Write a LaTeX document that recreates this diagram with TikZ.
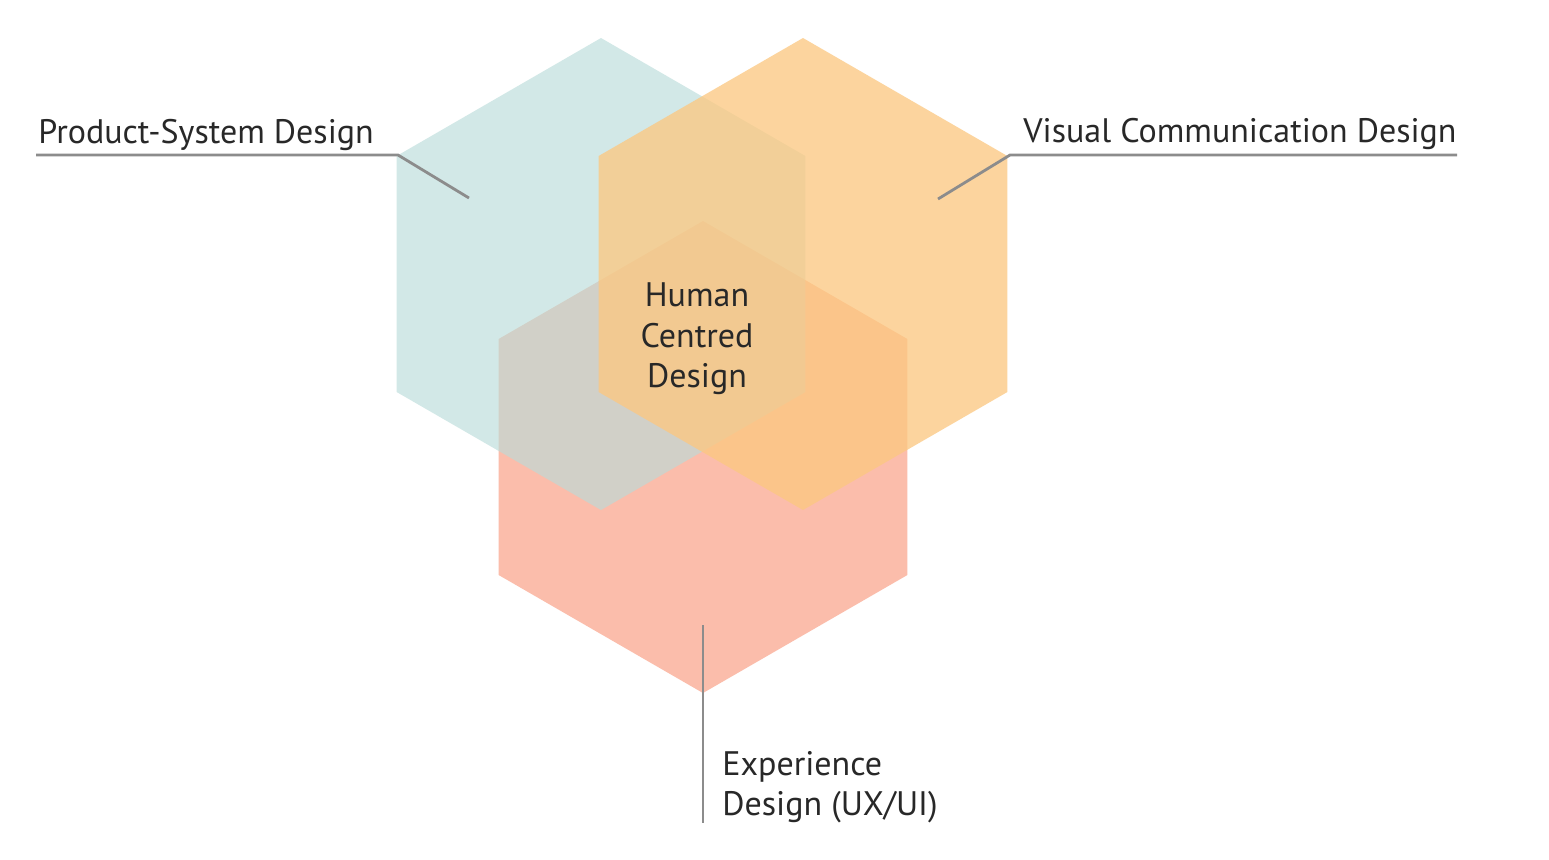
\documentclass[tikz,border=0pt]{standalone}
\usepackage{fontspec}
\setmainfont{PT Sans}
\usepackage{xcolor}
\usetikzlibrary{shapes.geometric}

\definecolor{hexteal}{RGB}{185,220,217}
\definecolor{hexorange}{RGB}{252,200,129}
\definecolor{hexsalmon}{RGB}{251,189,171}
\definecolor{leadgrey}{RGB}{140,140,140}
\definecolor{labelink}{RGB}{40,40,40}

\begin{document}
\begin{tikzpicture}[
        x=0.5pt, y=-0.5pt,
        hexa/.style={regular polygon, regular polygon sides=6, shape border rotate=30, minimum size=236pt, inner sep=0pt, outer sep=0pt},
        lbl/.style={font=\fontsize{17}{20.3}\selectfont, text=labelink, inner sep=0pt, align=left},
        lead/.style={draw=leadgrey, line width=1.4pt}
    ]
        \useasboundingbox[fill=white] (0,0) rectangle (1549,859);

        % Hexagons (salmon under teal under orange)
        \node[hexa, fill=hexsalmon] (exd) at (703,457) {};
        \node[hexa, fill=hexteal, fill opacity=0.63] (psd) at (601,274) {};
        \node[hexa, fill=hexorange, fill opacity=0.77] (vcd) at (803,274) {};

        % Labels
        \node[lbl, anchor=base west] (psd-lbl) at (38,143) {Product-System Design};
        \node[lbl, anchor=base west] (vcd-lbl) at (1023,142) {Visual Communication Design};
        \node[lbl, anchor=west] (exd-lbl) at (722,787) {Experience\\Design (UX/UI)};
        \node[lbl, align=center] (hcd) at (697,339) {Human\\Centred\\Design};

        % Leader lines
        \coordinate (psd-end) at (36,155);
        \coordinate (psd-knee) at (398,155);
        \coordinate (psd-tip) at (469,198);
        \coordinate (vcd-end) at (1457,155);
        \coordinate (vcd-knee) at (1010,155);
        \coordinate (vcd-tip) at (938,199);
        \coordinate (exd-top) at (703,625);
        \coordinate (exd-end) at (703,823);

        \draw[lead] (psd-end) -- (psd-knee) -- (psd-tip);
        \draw[lead] (vcd-end) -- (vcd-knee) -- (vcd-tip);
        \draw[lead] (exd-top) -- (exd-end);
    \end{tikzpicture}
\end{document}
